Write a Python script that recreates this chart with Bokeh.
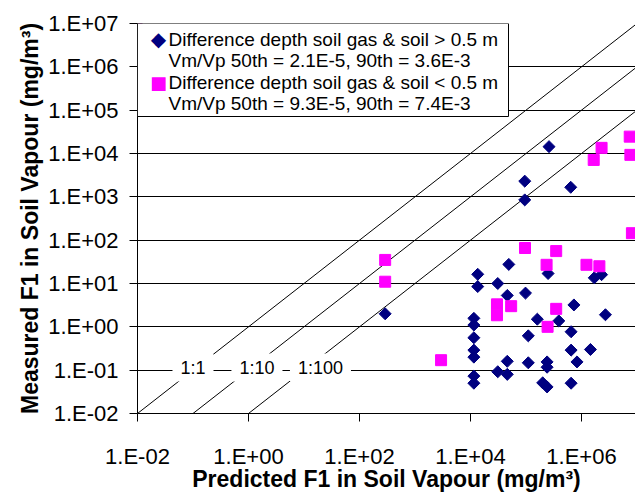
from bokeh.plotting import figure
from bokeh.models import FixedTicker, CustomJSTickFormatter, Label, BoxAnnotation
from bokeh.embed import file_html
from bokeh.resources import INLINE

# ---- data ----
# Difference depth soil gas & soil > 0.5 m  (navy diamonds)
deep_pred = [2.6e5, 9.5e4, 6.4e5, 9.5e4, 2.9e2, 1.35e4, 1.35e4, 3.1e4, 1.15e4, 1.15e4,
             1.15e4, 1.15e4, 1.15e4, 1.15e4, 1.15e4, 3.1e4, 4.9e4, 2.5e5, 1.7e6, 2.3e6,
             4.6e4, 9.8e4, 7.3e5, 2.7e6, 1.6e5, 3.9e5, 1.1e5, 6.5e5, 6.5e5, 1.45e6,
             8.3e5, 4.6e4, 1.1e5, 2.4e5, 2.4e5, 4.6e4, 2.0e5, 2.4e5, 6.5e5]
deep_meas = [1.44e4, 2.3e3, 1.66e3, 850, 2.0, 16.3, 8.5, 10, 1.57, 1.1,
             0.56, 0.29, 0.2, 0.073, 0.05, 0.092, 27.6, 17, 13.5, 16,
             5.3, 6.0, 3.2, 1.9, 1.5, 1.37, 0.62, 0.77, 0.29, 0.30,
             0.155, 0.16, 0.148, 0.155, 0.117, 0.08, 0.051, 0.041, 0.05]

# Difference depth soil gas & soil < 0.5 m  (magenta squares)
shallow_pred = [7.4e6, 2.3e6, 1.66e6, 7.6e6, 8.1e6, 9.6e4, 3.5e5, 2.35e5, 1.23e6, 2.1e6,
                2.9e2, 2.9e2, 2.95e3, 3.0e4, 3.0e4, 5.4e4, 3.5e5, 2.45e5]
shallow_meas = [2.45e4, 1.35e4, 7.1e3, 9.3e3, 145, 66, 56, 27, 27, 25,
                35, 11, 0.17, 3.3, 1.85, 3.0, 2.6, 1.0]

# stray corner marker
corner_pred = [1e-2]
corner_meas = [1e7]

ratio_values = [1, 10, 100]
ratio_labels = ["1:1", "1:10", "1:100"]

x_ticks = [1e-2, 1e0, 1e2, 1e4, 1e6]
y_ticks = [1e-2, 1e-1, 1e0, 1e1, 1e2, 1e3, 1e4, 1e5, 1e6, 1e7]

legend_lines = [
    "Difference depth soil gas & soil > 0.5 m",
    "Vm/Vp 50th = 2.1E-5, 90th = 3.6E-3",
    "Difference depth soil gas & soil < 0.5 m",
    "Vm/Vp 50th = 9.3E-5, 90th = 7.4E-3",
]

x_title = "Predicted F1 in Soil Vapour (mg/m³)"
y_title = "Measured F1 in Soil Vapour (mg/m³)"

FONT = "Liberation Sans"
NAVY = "#000080"
MAGENTA = "#FF00FF"

p = figure(
    x_axis_type="log", y_axis_type="log",
    x_range=(1e-2, 9.4e6), y_range=(1e-2, 1e7),
    frame_width=498, frame_height=390,
    min_border_left=137, min_border_top=23, min_border_right=0, min_border_bottom=84,
    output_backend="svg", toolbar_location=None,
    background_fill_color="white", border_fill_color="white",
)
p.outline_line_color = None

# axes
fmt = CustomJSTickFormatter(code="""
const e = Math.round(Math.log10(tick));
const s = e < 0 ? '-' : '+';
const a = Math.abs(e);
return '1.E' + s + (a < 10 ? '0' : '') + a;
""")
p.xaxis.ticker = FixedTicker(ticks=x_ticks)
p.yaxis.ticker = FixedTicker(ticks=y_ticks)
for ax in (p.xaxis, p.yaxis):
    ax.formatter = fmt
    ax.axis_line_color = "black"
    ax.axis_line_width = 1
    ax.major_tick_line_color = "black"
    ax.major_tick_out = 8
    ax.major_tick_in = 0
    ax.minor_tick_line_color = None
    ax.major_label_text_font = FONT
    ax.major_label_text_font_size = "22px"
    ax.major_label_text_color = "black"
    ax.axis_label_text_font = FONT
    ax.axis_label_text_font_size = "23px"
    ax.axis_label_text_font_style = "bold"
    ax.axis_label_text_color = "black"
p.xaxis.axis_label = x_title
p.yaxis.axis_label = y_title
p.xaxis.major_label_standoff = 22
p.xaxis.axis_label_standoff = -6
p.yaxis.major_label_standoff = 11
p.yaxis.axis_label_standoff = 2

p.xgrid.visible = False
p.ygrid.grid_line_color = "black"
p.ygrid.grid_line_width = 1
p.ygrid.grid_line_alpha = 1

# ratio lines
for r in ratio_values:
    xs = [1e-2 * r, 1e7]
    ys = [x / r for x in xs]
    p.line(xs, ys, line_color="black", line_width=1)

# data
p.scatter(deep_pred, deep_meas, marker="square", size=8.5, angle=0.7854,
          fill_color=NAVY, line_color=NAVY, line_width=1)
p.scatter(shallow_pred, shallow_meas, marker="square", size=11,
          fill_color=MAGENTA, line_color=MAGENTA, line_width=1)
p.scatter(corner_pred, corner_meas, marker="asterisk", size=10,
          line_color="#800080", line_width=1.5)

# ratio labels
label_x = [0.1, 1.42, 19.8]
for txt, lx in zip(ratio_labels, label_x):
    p.add_layout(Label(x=lx, y=0.115, text=txt, text_align="center", text_baseline="middle",
                       text_font=FONT, text_font_size="18px", text_color="black",
                       background_fill_color="white", background_fill_alpha=1.0,
                       padding=(8, 4)))

# legend (manual)
p.add_layout(BoxAnnotation(left=0, right=371, top=390, bottom=297, left_units="screen",
                           right_units="screen", top_units="screen", bottom_units="screen",
                           fill_color="white", fill_alpha=1.0, line_color="black",
                           line_width=1, line_alpha=1.0))
row_y = [374.5, 353, 331.5, 310]
for txt, yy in zip(legend_lines, row_y):
    p.add_layout(Label(x=31, y=yy, x_units="screen", y_units="screen", text=txt,
                       text_baseline="middle", text_align="left",
                       text_font=FONT, text_font_size="19px", text_color="black"))
p.add_layout(Label(x=21, y=row_y[0], x_units="screen", y_units="screen", text="◆",
                   text_baseline="middle", text_align="center",
                   text_font="DejaVu Sans", text_font_size="20px", text_color=NAVY))
p.add_layout(Label(x=21, y=row_y[2], x_units="screen", y_units="screen", text="■",
                   text_baseline="middle", text_align="center",
                   text_font="DejaVu Sans", text_font_size="18px", text_color=MAGENTA))

open("out.html", "w").write(file_html(p, INLINE))
